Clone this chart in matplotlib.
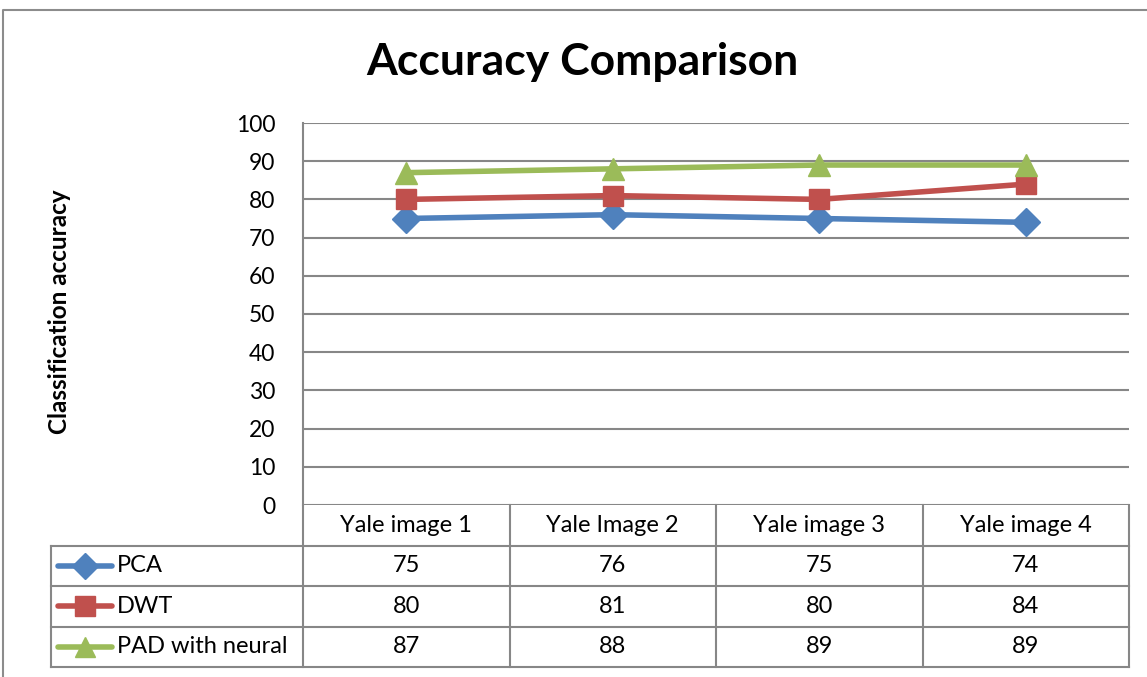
import matplotlib
matplotlib.use("Agg")
import matplotlib.pyplot as plt
from matplotlib.lines import Line2D

# data
categories = ["Yale image 1", "Yale Image 2", "Yale image 3", "Yale image 4"]
series_names = ["PCA", "DWT", "PAD with neural"]
pca = [75, 76, 75, 74]
dwt = [80, 81, 80, 84]
pad = [87, 88, 89, 89]
yticks = list(range(0, 101, 10))

colors = ["#4F81BD", "#C0504D", "#9BBB59"]
markers = ["D", "s", "^"]
msizes = [14, 15, 16]
grid_c = "#878787"

plt.rcParams['font.family'] = ['Lato', 'DejaVu Sans']

W, H = 1147, 677
fig = plt.figure(figsize=(W / 100, H / 100), dpi=100)

# outer chart border (only left and top are inside the picture)
fig.lines.append(Line2D([3 / W, 3 / W, 1], [0, 1 - 10 / H, 1 - 10 / H],
                        transform=fig.transFigure, color="#8c8c8c", lw=1.5))

# plot area
ax = fig.add_axes([303 / W, (H - 505) / H, 826 / W, 382 / H])
ax.set_xlim(-0.5, len(categories) - 0.5)
ax.set_ylim(0, 100)
ax.set_yticks(yticks)
ax.set_xticks([])
ax.tick_params(axis='y', length=0, pad=20, labelsize=16.5)
for s in ["top", "right", "bottom"]:
    ax.spines[s].set_visible(False)
ax.spines["left"].set_color(grid_c)
ax.spines["left"].set_linewidth(1.5)
ax.yaxis.grid(True, color=grid_c, lw=1.5)
ax.set_axisbelow(True)

all_series = [pca, dwt, pad]
x = list(range(len(categories)))
for vals, c, m, ms in zip(all_series, colors, markers, msizes):
    ax.plot(x, vals, color=c, lw=4, marker=m, ms=ms, mec=c, mfc=c, solid_capstyle='round',
            clip_on=False, zorder=3)

fig.text(582 / W, 1 - 62 / H, "Accuracy Comparison", ha="center", va="center",
         fontsize=32, fontweight="bold")
fig.text(60 / W, 1 - 312 / H, "Classification accuracy", ha="center", va="center",
         rotation=90, fontsize=17.5, fontweight="bold")

# data table under the plot
tab = fig.add_axes([303 / W, (H - 667) / H, 826 / W, 162 / H])
tab.set_xlim(-0.5, len(categories) - 0.5)
tab.set_ylim(len(all_series) + 1, 0)
tab.axis("off")
left_x = -0.5 - (303 - 51) / 206.5
kw = dict(color=grid_c, lw=1.5, clip_on=False)
for i in range(len(categories) + 1):
    tab.plot([i - 0.5, i - 0.5], [0, len(all_series) + 1], **kw)
tab.plot([left_x, left_x], [1, len(all_series) + 1], **kw)
for r in range(1, len(all_series) + 2):
    tab.plot([left_x, len(categories) - 0.5], [r, r], **kw)

for i, cat in enumerate(categories):
    tab.text(i, 0.5, cat, ha="center", va="center", fontsize=17)
for r, (name, vals, c, m, ms) in enumerate(zip(series_names, all_series, colors, markers, msizes)):
    y = r + 1.5
    x0 = left_x + 7 / 206.5
    x1 = left_x + 61 / 206.5
    tab.plot([x0, x1], [y, y], color=c, lw=4, solid_capstyle='round', clip_on=False)
    tab.plot([(x0 + x1) / 2], [y], marker=m, ms=ms - 1, color=c, clip_on=False)
    tab.text(left_x + 66 / 206.5, y, name, ha="left", va="center", fontsize=17)
    for i, v in enumerate(vals):
        tab.text(i, y, str(v), ha="center", va="center", fontsize=17)

fig.savefig("out.png", dpi=100)
